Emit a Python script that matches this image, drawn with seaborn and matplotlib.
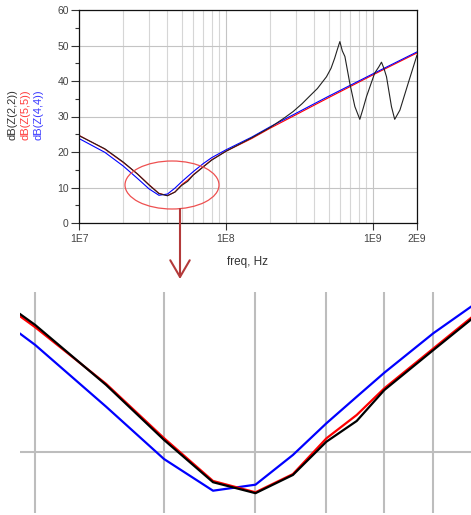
import numpy as np
import pandas as pd
import matplotlib
matplotlib.use('Agg')
import matplotlib.pyplot as plt
import seaborn as sns
from matplotlib.patches import Ellipse
from matplotlib.ticker import FixedLocator, MultipleLocator, NullLocator, LogLocator

sns.set_style('white')
plt.rcParams['font.family'] = ['Liberation Sans', 'DejaVu Sans']

# low band, shared sweep points
freq_lo = [1.0e7, 1.5e7, 2.0e7, 2.5e7, 3.0e7, 3.5e7, 4.0e7, 4.5e7, 5.0e7, 5.5e7, 6.0e7, 7.0e7, 8.0e7, 1.0e8]
z22_lo = [24.6, 20.9, 17.18, 13.79, 10.68, 8.29, 7.67, 8.70, 10.58, 11.75, 13.50, 15.76, 17.7, 20.2]
z55_lo = [24.7, 20.8, 17.05, 13.85, 10.78, 8.36, 7.72, 8.75, 10.77, 12.09, 13.60, 15.85, 17.8, 20.2]
z44_lo = [23.8, 19.9, 16.05, 12.56, 9.60, 7.81, 8.15, 9.83, 11.62, 13.12, 14.48, 16.71, 18.4, 20.6]

# high band
freq_hi = [1.5e8, 2.0e8, 3.0e8, 5.0e8, 1.0e9, 2.0e9]
z55_hi = [23.8, 26.7, 30.5, 35.3, 41.7, 47.9]
z44_hi = [24.2, 27.1, 30.9, 35.7, 42.0, 48.2]

freq_z22_hi = [1.5e8, 2.0e8, 2.5e8, 2.87e8, 3.3e8, 3.73e8, 4.2e8, 4.84e8, 5.2e8, 5.5e8, 5.75e8,
               5.97e8, 6.2e8, 6.46e8, 6.98e8, 7.55e8, 8.16e8, 8.6e8, 9.06e8, 1.03e9, 1.1e9,
               1.146e9, 1.19e9, 1.24e9, 1.34e9, 1.41e9, 1.53e9, 1.74e9, 2.0e9]
z22_hi = [24.0, 26.9, 29.6, 31.4, 33.6, 35.8, 37.9, 41.2, 43.6, 46.4, 49.0,
          51.1, 48.5, 46.9, 39.3, 32.8, 29.2, 32.3, 35.6, 42.2, 44.0,
          45.3, 43.6, 41.2, 32.8, 29.2, 31.8, 39.3, 47.3]

xticks = [1e7, 1e8, 1e9, 2e9]
xticklabels = ['1E7', '1E8', '1E9', '2E9']
zoom_grid_x = [2e7, 3e7, 4e7, 5e7, 6e7, 7e7]

df22 = pd.DataFrame({'freq': freq_lo + freq_z22_hi, 'dB': z22_lo + z22_hi})
df55 = pd.DataFrame({'freq': freq_lo + freq_hi, 'dB': z55_lo + z55_hi})
df44 = pd.DataFrame({'freq': freq_lo + freq_hi, 'dB': z44_lo + z44_hi})

fig = plt.figure(figsize=(4.71, 5.15), dpi=100)

# main plot
ax = fig.add_axes([79/471, 1 - 223/515, 338/471, 213/515])
sns.lineplot(data=df55, x='freq', y='dB', ax=ax, color='#ff0000', lw=0.8)
sns.lineplot(data=df44, x='freq', y='dB', ax=ax, color='#0000ff', lw=0.8)
sns.lineplot(data=df22, x='freq', y='dB', ax=ax, color='#222222', lw=0.8)
ax.set_xscale('log')
ax.set_xlim(1e7, 2e9)
ax.set_ylim(0, 60)
ax.xaxis.set_major_locator(FixedLocator(xticks))
ax.set_xticklabels(xticklabels)
ax.xaxis.set_minor_locator(LogLocator(base=10, subs=np.arange(2, 10)))
ax.yaxis.set_major_locator(MultipleLocator(10))
ax.yaxis.set_minor_locator(MultipleLocator(5))
ax.tick_params(axis='x', which='major', length=5, width=0.8, color='#333333', labelsize=7.5,
               labelcolor='#444444', pad=3, bottom=True)
ax.tick_params(axis='x', which='minor', length=0, labelbottom=False)
ax.tick_params(axis='y', which='major', length=5.8, width=0.8, color='#333333', labelsize=7.5,
               labelcolor='#444444', pad=1.5, left=True)
ax.tick_params(axis='y', which='minor', length=2.9, width=0.8, color='#333333', left=True)
ax.grid(which='major', axis='both', color='#c4c4c4', lw=0.8)
ax.xaxis.grid(True, which='minor', color='#d6d6d6', lw=0.8)
ax.set_axisbelow(True)
for s in ax.spines.values():
    s.set_color('#111111')
    s.set_linewidth(0.9)
ax.set_ylabel('')
ax.set_xlabel('freq, Hz', fontsize=8.5, color='#333333', va='center')
ax.xaxis.set_label_coords(0.5, -39/213)

fig.text(13/471, 1 - 115/515, 'dB(Z(2,2))', rotation=90, ha='center', va='center', fontsize=8, color='#333333')
fig.text(25.5/471, 1 - 115/515, 'dB(Z(5,5))', rotation=90, ha='center', va='center', fontsize=8, color='#ff3b3b')
fig.text(38/471, 1 - 115/515, 'dB(Z(4,4))', rotation=90, ha='center', va='center', fontsize=8, color='#3b3bff')

# zoomed panel
bx = fig.add_axes([20/471, 2/515, 451/471, 221/515])
sns.lineplot(data=df44, x='freq', y='dB', ax=bx, color='#0000ff', lw=1.6)
sns.lineplot(data=df55, x='freq', y='dB', ax=bx, color='#ff0000', lw=1.6)
sns.lineplot(data=df22, x='freq', y='dB', ax=bx, color='#000000', lw=1.6)
bx.set_xscale('log')
bx.set_xlim(1.907e7, 7.88e7)
bx.set_ylim(6.55, 19.04)
bx.xaxis.set_major_locator(FixedLocator(zoom_grid_x))
bx.xaxis.set_minor_locator(NullLocator())
bx.yaxis.set_major_locator(FixedLocator([10]))
bx.tick_params(which='both', length=0, labelbottom=False, labelleft=False)
bx.grid(True, color='#bdbdbd', lw=1.5)
bx.set_axisbelow(True)
for s in bx.spines.values():
    s.set_visible(False)
bx.set_xlabel('')
bx.set_ylabel('')
bx.patch.set_alpha(0)

# ellipse + arrow overlay
ov = fig.add_axes([0, 0, 1, 1])
ov.set_xlim(0, 471)
ov.set_ylim(515, 0)
ov.axis('off')
ov.patch.set_alpha(0)
ov.add_patch(Ellipse((172, 185), 94, 48, fill=False, ec='#ee5050', lw=0.9))
ov.annotate('', xy=(180, 279), xytext=(180, 209),
            arrowprops=dict(arrowstyle='->,head_length=1.2,head_width=0.7', color='#b33a3a',
                            lw=1.5, shrinkA=0, shrinkB=0))

fig.savefig('out.png', dpi=100)
